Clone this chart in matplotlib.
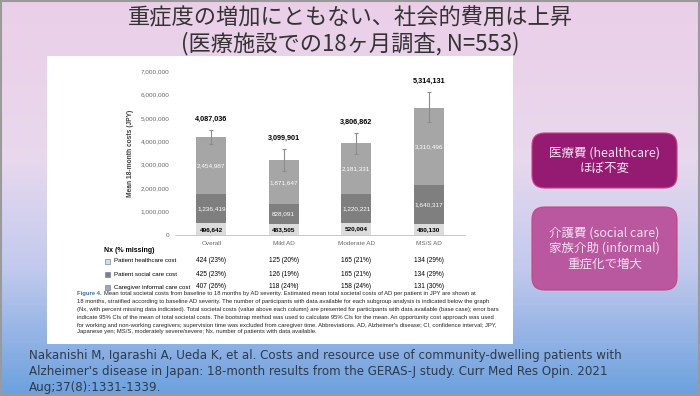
import numpy as np
import matplotlib.pyplot as plt
from matplotlib.patches import Rectangle, FancyBboxPatch
from matplotlib.colors import LinearSegmentedColormap

# data
categories = ['Overall', 'Mild AD', 'Moderate AD', 'MS/S AD']
healthcare = [496642, 483505, 520004, 480130]
social_care = [1236419, 828091, 1220221, 1640317]
informal_care = [2454987, 1871647, 2181331, 3310496]
totals = [4087036, 3099901, 3806862, 5314131]
ci_low = [3880000, 2730000, 3460000, 4820000]
ci_high = [4480000, 3670000, 4350000, 6100000]

nx_rows = ['Patient healthcare cost', 'Patient social care cost', 'Caregiver informal care cost']
nx_healthcare = ['424 (23%)', '125 (20%)', '165 (21%)', '134 (29%)']
nx_social = ['425 (23%)', '126 (19%)', '165 (21%)', '134 (29%)']
nx_informal = ['407 (26%)', '118 (24%)', '158 (24%)', '131 (30%)']

title_lines = ['重症度の増加にともない、社会的費用は上昇', '(医療施設での18ヶ月調査, N=553)']
box1_text = '医療費 (healthcare)\nほぼ不変'
box2_text = '介護費 (social care)\n家族介助 (informal)\n重症化で増大'
caption = ["Mean total societal costs from baseline to 18 months by AD severity. Estimated mean total societal costs of AD per patient in JPY are shown at",
           "18 months, stratified according to baseline AD severity. The number of participants with data available for each subgroup analysis is indicated below the graph",
           "(Nx, with percent missing data indicated). Total societal costs (value above each column) are presented for participants with data available (base case); error bars",
           "indicate 95% CIs of the mean of total societal costs. The bootstrap method was used to calculate 95% CIs for the mean. An opportunity cost approach was used",
           "for working and non-working caregivers; supervision time was excluded from caregiver time. Abbreviations. AD, Alzheimer's disease; CI, confidence interval; JPY,",
           "Japanese yen; MS/S, moderately severe/severe; Nx, number of patients with data available."]
citation = ["Nakanishi M, Igarashi A, Ueda K, et al. Costs and resource use of community-dwelling patients with",
            "Alzheimer's disease in Japan: 18-month results from the GERAS-J study. Curr Med Res Opin. 2021",
            "Aug;37(8):1331-1339."]

W, H = 700, 396
def fx(px): return px / W
def fy(py): return 1 - py / H

fig = plt.figure(figsize=(7, 3.96), dpi=100)

# slide background gradient
bg = fig.add_axes([0, 0, 1, 1], zorder=-10)
cmap = LinearSegmentedColormap.from_list('slide', [(0, (0.92, 0.81, 0.91)), (0.4, (0.91, 0.85, 0.93)),
                                                   (0.68, (0.76, 0.79, 0.93)), (1, (0.42, 0.63, 0.87))])
grad = np.linspace(0, 1, 256)[:, None] * np.ones((1, 8))
bg.imshow(grad, aspect='auto', cmap=cmap, extent=[0, 1, 0, 1], origin='upper')
bg.set_xlim(0, 1); bg.set_ylim(0, 1)
bg.axis('off')
bg.add_patch(Rectangle((0.002, 0.003), 0.996, 0.994, fill=False, ec='#9a9a9a', lw=1.5))
bg.add_patch(Rectangle((fx(47), fy(344)), fx(513) - fx(47), fy(56) - fy(344), fc='white', ec='none'))

# title
for i, t in enumerate(title_lines):
    fig.text(0.5, fy(18 + 26 * i), t, ha='center', va='center', fontsize=16,
             family=['Noto Sans CJK JP', 'DejaVu Sans'], color='#333333')

# right side boxes
for (x0, y0, x1, y1), col, txt in [((532, 133, 677, 188), '#951b72', box1_text),
                                   ((532, 207, 677, 290), '#b9579f', box2_text)]:
    bg.add_patch(FancyBboxPatch((fx(x0), fy(y1)), fx(x1) - fx(x0), fy(y0) - fy(y1),
                                boxstyle='round,pad=0,rounding_size=0.018', fc=col, ec='#d0407e', lw=0.8,
                                mutation_aspect=W / H))
    fig.text(fx((x0 + x1) / 2), fy((y0 + y1) / 2), txt, ha='center', va='center', fontsize=9,
             family=['Noto Sans CJK JP', 'DejaVu Sans'], color='#f6e4f1', linespacing=1.25)

# chart
ax = fig.add_axes([fx(175), fy(235), fx(465) - fx(175), fy(71) - fy(235)])
x = np.arange(len(categories))
bw = 0.41
c_hc, c_sc, c_ic = '#dcdcdc', '#7f7f7f', '#a6a6a6'
hc = np.array(healthcare); sc = np.array(social_care); ic = np.array(informal_care)
ax.bar(x, hc, bw, color=c_hc)
ax.bar(x, sc, bw, bottom=hc, color=c_sc)
ax.bar(x, ic, bw, bottom=hc + sc, color=c_ic)
top = hc + sc + ic
yerr = [top - np.array(ci_low), np.array(ci_high) - top]
ax.errorbar(x, top, yerr=yerr, fmt='none', ecolor='#8c8c8c', elinewidth=0.8, capsize=1.2, capthick=0.8)

for i in range(len(categories)):
    ax.text(x[i], hc[i] / 2, f'{hc[i]:,}', ha='center', va='center', fontsize=4.6, fontweight='bold',
            color='black', family='Liberation Sans')
    ax.text(x[i], hc[i] + sc[i] / 2, f'{sc[i]:,}', ha='center', va='center', fontsize=4.6,
            color='white', family='Liberation Sans')
    ax.text(x[i], hc[i] + sc[i] + ic[i] / 2, f'{ic[i]:,}', ha='center', va='center', fontsize=4.6,
            color='white', family='Liberation Sans')
    ax.annotate(f'{totals[i]:,}', (x[i], ci_high[i]), xytext=(0, 8), textcoords='offset points',
                ha='center', va='center', fontsize=5.2, fontweight='bold', family='Liberation Sans')

ax.set_xlim(-0.5, len(categories) - 0.5)
ax.set_ylim(0, 7000000)
ax.set_yticks(np.arange(0, 7000001, 1000000))
ax.set_yticklabels([f'{v:,}' for v in range(0, 7000001, 1000000)])
ax.set_xticks(x)
ax.set_xticklabels(categories)
ax.tick_params(length=0, labelsize=4.6, labelcolor='#666666', pad=4)
for lab in ax.get_xticklabels() + ax.get_yticklabels():
    lab.set_family('Liberation Sans')
for s in ['top', 'right', 'left']:
    ax.spines[s].set_visible(False)
ax.spines['bottom'].set_color('#bfbfbf')
ax.spines['bottom'].set_linewidth(0.6)
ax.set_ylabel('Mean 18-month costs (JPY)', fontsize=4.8, color='#404040', family='Liberation Sans',
              fontweight='bold', labelpad=5)

# Nx table
fig.text(fx(104), fy(251), 'Nx (% missing)', fontsize=5, fontweight='bold', va='center',
         family='Liberation Sans')
row_y = [261, 274, 287]
row_cols = [c_hc, c_sc, c_ic]
row_vals = [nx_healthcare, nx_social, nx_informal]
xt = ax.get_xaxis_transform()
for j in range(3):
    bg.add_patch(Rectangle((fx(105), fy(row_y[j] + 2.5)), fx(5), 5 / H, fc=row_cols[j], ec='#6f86b8', lw=0.5))
    fig.text(fx(114), fy(row_y[j]), nx_rows[j], fontsize=4.4, va='center', family='Liberation Sans')
    for i in range(len(categories)):
        ax.text(x[i], (235 - row_y[j]) / 164, row_vals[j][i], transform=xt, ha='center', va='center',
                fontsize=4.7, family='Liberation Sans', clip_on=False)

# caption
cap_y = [294, 302, 310, 317, 325, 332]
fig.canvas.draw()
r = fig.canvas.get_renderer()
f4 = fig.text(fx(77), fy(cap_y[0]), 'Figure 4.', fontsize=4.2, fontweight='bold', color='#3a6fb0',
              va='center', family='Liberation Sans')
w4 = f4.get_window_extent(r).width
for k, line in enumerate(caption):
    xoff = 77 + (w4 + 2.5 if k == 0 else 0)
    fig.text(fx(xoff), fy(cap_y[k]), line, fontsize=4.2, va='center', family='Liberation Sans', color='#222222')

# citation
for k, line in enumerate(citation):
    fig.text(fx(29), fy(356 + 16 * k), line, fontsize=8.6, va='center', family='DejaVu Sans', color='#2f3a4a')

fig.savefig('out.png', dpi=100)
